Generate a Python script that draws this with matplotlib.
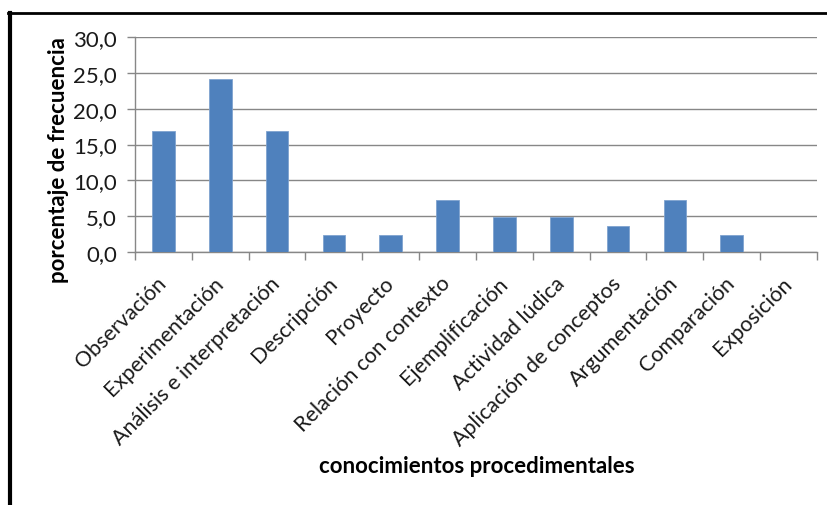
import numpy as np
import matplotlib.pyplot as plt
from matplotlib.lines import Line2D
from matplotlib.transforms import ScaledTranslation

# datos
categorias = ['Observación', 'Experimentación', 'Análisis e interpretación',
              'Descripción', 'Proyecto', 'Relación con contexto',
              'Ejemplificación', 'Actividad lúdica', 'Aplicación de conceptos',
              'Argumentación', 'Comparación', 'Exposición']
porcentajes = [16.9, 24.1, 16.9, 2.4, 2.4, 7.2, 4.9, 4.9, 3.6, 7.2, 2.4, 0.0]
yticks = [0, 5, 10, 15, 20, 25, 30]
ytick_labels = ['0,0', '5,0', '10,0', '15,0', '20,0', '25,0', '30,0']

plt.rcParams['font.family'] = ['Lato', 'DejaVu Sans']

fig = plt.figure(figsize=(8.28, 5.06), dpi=100)
ax = fig.add_axes([135/828, 1 - 253/506, (817-135)/828, (253-38)/506])

x = np.arange(len(categorias))
ax.bar(x, porcentajes, width=0.4, color='#4F81BD', edgecolor='#7FA3CF',
       linewidth=0.6, zorder=3)

gris = '#878787'
ax.set_xlim(-0.5, len(categorias) - 0.5)
ax.set_ylim(0, 30)
ax.set_yticks(yticks)
ax.set_yticklabels(ytick_labels, fontsize=16, color='#1a1a1a')
ax.yaxis.grid(True, color=gris, linewidth=1.0, zorder=0)

ax.set_xticks(x)
ax.set_xticklabels(categorias, rotation=45, ha='right', va='center',
                   rotation_mode='anchor', fontsize=15.5, color='#1a1a1a')
# corre las etiquetas un poco a la derecha y abajo
desplaza = ScaledTranslation(6/100, -6/100, fig.dpi_scale_trans)
for lbl in ax.get_xticklabels():
    lbl.set_transform(lbl.get_transform() + desplaza)
ax.set_xticks(np.arange(-0.5, len(categorias)), minor=True)
ax.tick_params(axis='x', which='major', length=0, pad=20)
ax.tick_params(axis='x', which='minor', length=6, color=gris, width=1.0)
ax.tick_params(axis='y', length=6, color=gris, width=1.0, pad=7)

for s in ['top', 'right']:
    ax.spines[s].set_visible(False)
for s in ['left', 'bottom']:
    ax.spines[s].set_color(gris)
    ax.spines[s].set_linewidth(1.0)

ax.set_ylabel('porcentaje de frecuencia', fontsize=16, fontweight='bold')
ax.yaxis.set_label_coords(-0.115 + 12/682, 0.43)
fig.text(477/828, 1 - 467/506, 'conocimientos procedimentales', fontsize=16,
         fontweight='bold', ha='center', va='center')

# marco negro (izquierda y arriba)
fig.add_artist(Line2D([10/828, 10/828], [0, 1 - 14/506], color='black',
                      linewidth=3.0, transform=fig.transFigure))
fig.add_artist(Line2D([8/828, 1], [1 - 14/506, 1 - 14/506], color='black',
                      linewidth=2.0, transform=fig.transFigure))

fig.savefig('out.png', dpi=100)
